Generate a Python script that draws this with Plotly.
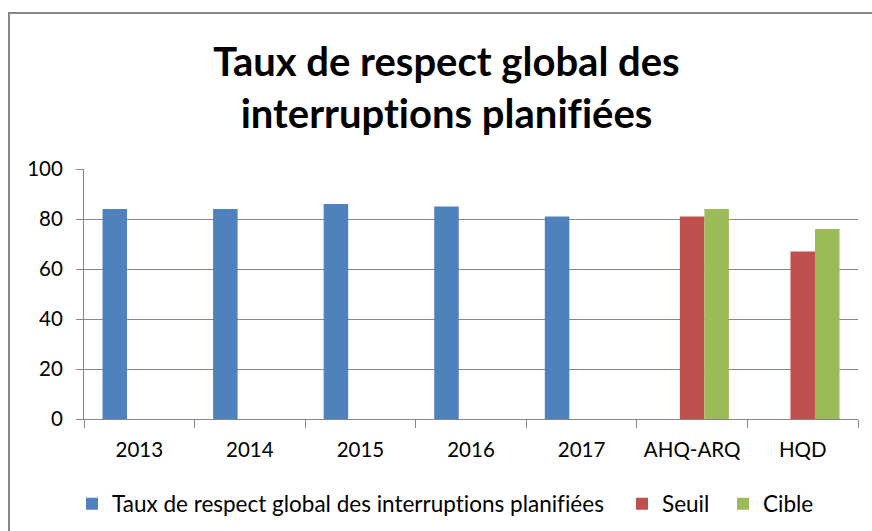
import plotly.graph_objects as go

categories = ["2013", "2014", "2015", "2016", "2017", "AHQ-ARQ", "HQD"]
taux = [84, 84, 86, 85, 81, None, None]
seuil = [None, None, None, None, None, 81, 67]
cible = [None, None, None, None, None, 84, 76]
y_ticks = [0, 20, 40, 60, 80, 100]

FONT = "Lato, Carlito, Calibri, sans-serif"
GRID = "#868686"
TXT = "#000000"

W, H = 872, 531
L, R, T, B = 84, 858, 169, 419
pw, ph = R - L, B - T


def px_x(p):
    return (p - L) / pw


def px_y(p):
    return (B - p) / ph


fig = go.Figure()
fig.add_trace(go.Bar(name="Taux de respect global des interruptions planifiées",
                     x=categories, y=taux, marker_color="#4F81BD", marker_line_width=0,
                     legend="legend"))
fig.add_trace(go.Bar(name="Seuil", x=categories, y=seuil,
                     marker_color="#C0504D", marker_line_width=0, legend="legend2"))
fig.add_trace(go.Bar(name="Cible", x=categories, y=cible,
                     marker_color="#9BBB59", marker_line_width=0, legend="legend3"))

LEG_Y = px_y(504)
leg_common = dict(orientation="h", xanchor="left", yanchor="middle", y=LEG_Y,
                  bgcolor="rgba(0,0,0,0)", borderwidth=0,
                  font=dict(family=FONT, size=22.5, color=TXT))

fig.update_layout(
    width=W, height=H,
    margin=dict(l=L, r=W - R, t=T, b=H - B, pad=0, autoexpand=False),
    paper_bgcolor="white", plot_bgcolor="white",
    barmode="group", bargap=0.335, bargroupgap=0,
    font=dict(family=FONT, size=20, color=TXT),
    title=dict(text="<b>Taux de respect global des<br>interruptions planifiées</b>",
               font=dict(family=FONT, size=40, color="black"),
               x=px_x(446.5), xanchor="center", xref="paper",
               y=0.856, yanchor="middle", yref="container"),
    showlegend=True,
    legend=dict(x=px_x(72), **leg_common),
    legend2=dict(x=px_x(622), **leg_common),
    legend3=dict(x=px_x(723), **leg_common),
    xaxis=dict(type="category", showline=True, linecolor=GRID, linewidth=1,
               ticks="outside", tickson="boundaries", ticklen=8, tickcolor=GRID,
               showgrid=False, tickfont=dict(size=20.5, color=TXT), ticklabelstandoff=12,
               automargin=False),
    yaxis=dict(range=[0, 100], tickvals=y_ticks, showline=True, linecolor=GRID, linewidth=1,
               ticks="outside", ticklen=7, tickcolor=GRID, showgrid=True, gridcolor=GRID,
               gridwidth=1, zeroline=False, tickfont=dict(size=20.5, color=TXT),
               ticklabelstandoff=9, automargin=False),
    shapes=[dict(type="rect", xref="paper", yref="paper",
                 x0=px_x(9), x1=px_x(900), y0=px_y(560), y1=px_y(13),
                 line=dict(color="#878787", width=2), fillcolor="rgba(0,0,0,0)", layer="below")],
)

post = ("document.body.style.margin='0';document.body.style.padding='0';"
        "var s=document.createElement('style');"
        "s.textContent='svg text{font-variant-ligatures:none;font-feature-settings:\"liga\" 0;}';"
        "document.head.appendChild(s);")

fig.write_html("out.html", post_script=post, config={"displayModeBar": False})
